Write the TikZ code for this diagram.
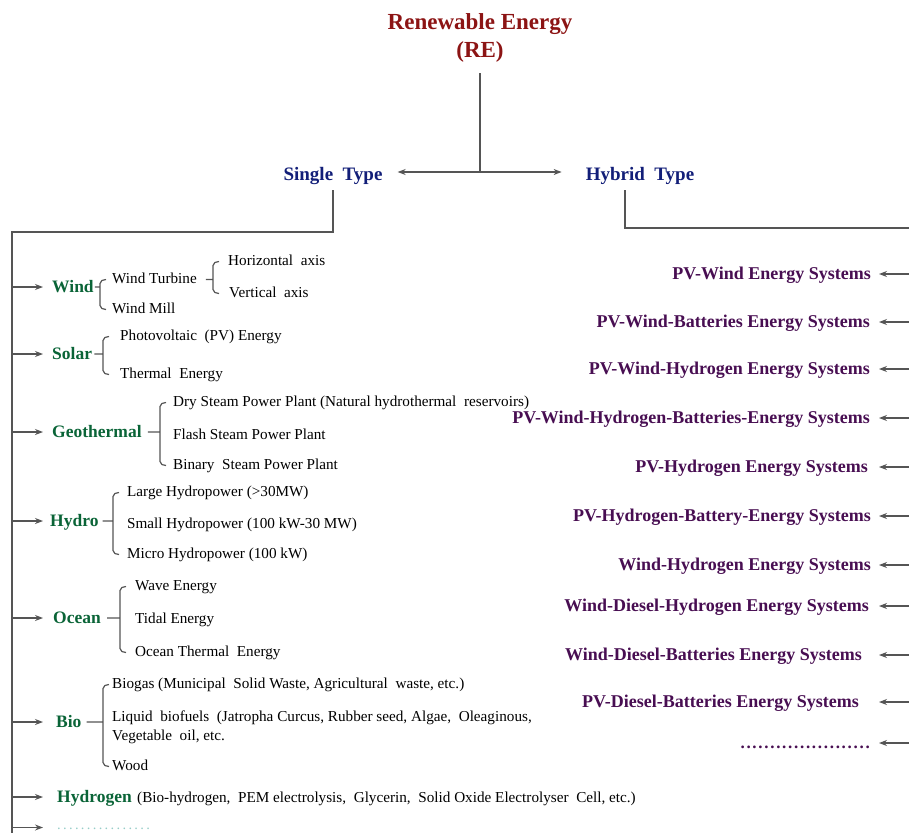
\documentclass[tikz,border=0pt]{standalone}
\usepackage{fontspec}
\setmainfont{Liberation Serif}
\usetikzlibrary{arrows.meta,calc}

\definecolor{retitle}{RGB}{140,20,20}
\definecolor{typeblue}{RGB}{18,30,120}
\definecolor{srcgreen}{RGB}{10,100,55}
\definecolor{hybpurple}{RGB}{72,14,82}
\definecolor{linkgray}{RGB}{85,85,85}
\definecolor{faintteal}{RGB}{150,205,200}

\tikzset{
  link/.style={draw=linkgray, line width=1.2pt},
  arr/.style={link, -{Stealth[length=8pt,width=6pt]}},
  title/.style={font=\fontsize{23}{28}\selectfont\bfseries, text=retitle, align=center, inner sep=0pt},
  kind/.style={font=\fontsize{19}{22}\selectfont\bfseries, text=typeblue, inner sep=0pt, anchor=base},
  src/.style={font=\fontsize{17.5}{20}\selectfont\bfseries, text=srcgreen, inner sep=0pt, anchor=west, text height=13pt, text depth=3pt},
  item/.style={font=\fontsize{15.2}{18}\selectfont, inner sep=0pt, anchor=base west, text height=10pt, text depth=3pt},
  hyb/.style={font=\fontsize{18}{21}\selectfont\bfseries, text=hybpurple, inner sep=0pt, anchor=east, text height=13pt, text depth=3pt},
}

% bracket from a source label to its first..last items
% #1 parent, #2 first item, #3 last item, #4 gap before item text, #5 gap after parent
\newcommand\bracelink[5]{%
  \draw[link] let \p1=(#2.west), \p2=(#3.west), \p3=(#1.east) in
    (\x1-#4pt+6pt,\y1) to[out=180,in=90] (\x1-#4pt,\y1-4pt)
    -- (\x1-#4pt,\y2+4pt) to[out=-90,in=180] (\x1-#4pt+6pt,\y2)
    (\x3+#5pt,\y3) -- (\x1-#4pt,\y3);}

\begin{document}
\begin{tikzpicture}[x=1pt,y=-1pt]
\useasboundingbox (0,0) rectangle (909,832);

% root and the two families
\node[title, anchor=north] (re) at (480,13) {Renewable Energy\\(RE)};
\node[kind] (single) at (333,180) {Single\ \ Type};
\node[kind] (hybrid) at (640,180) {Hybrid\ \ Type};

\coordinate (fork) at (480,172);
\draw[link] ([yshift=-11pt]re.south) -- (fork);
\draw[arr] (fork) -- ($(single.east |- fork)+(15,0)$);
\draw[arr] (fork) -- ($(hybrid.west |- fork)+(-24,0)$);

% spines
\coordinate (spine) at (12,232);
\coordinate (spineend) at (12,845);
\coordinate (ltip) at (43,0);
\draw[link] ([yshift=-6pt]single.south) -- (single.south |- spine) -- (spine) -- (spineend);

\coordinate (hdrop) at (625,190);
\coordinate (rspine) at (913,228);
\coordinate (rspineend) at (913,760);
\coordinate (htip) at (879,0);
\draw[link] (hdrop) -- (hdrop |- rspine) -- (rspine) -- (rspineend);

% single type sources
\node[src] (wind)  at (52,287) {Wind};
\node[src] (solar) at (52,354) {Solar};
\node[src] (geo)   at (52,432) {Geothermal};
\node[src] (hydro) at (50,521) {Hydro};
\node[src] (ocean) at (53,618) {Ocean};
\node[src] (bio)   at (56,722) {Bio};
\node[src] (hyd)   at (57,797) {Hydrogen};
\node[item, text=faintteal, text height=3pt, text depth=0pt,
      font=\fontsize{14.5}{17}\selectfont\addfontfeature{LetterSpace=16}] (more) at (57,829) {................};

\node[item] (wt) at (112,283) {Wind Turbine};
\node[item] (wm) at (112,313) {Wind Mill};
\node[item] (ha) at (228,265) {Horizontal\ \ axis};
\node[item] (va) at (229,297) {Vertical\ \ axis};

\node[item] (pv) at (120,340) {Photovoltaic\ \ (PV) Energy};
\node[item] (th) at (120,378) {Thermal\ \ Energy};

\node[item] (dry)   at (173,406) {Dry Steam Power Plant (Natural hydrothermal\ \ reservoirs)};
\node[item] (flash) at (173,439) {Flash Steam Power Plant};
\node[item] (bin)   at (173,469) {Binary\ \ Steam Power Plant};

\node[item] (large) at (127,496) {Large Hydropower (>30MW)};
\node[item] (small) at (127,528) {Small Hydropower (100 kW-30 MW)};
\node[item] (micro) at (127,558) {Micro Hydropower (100 kW)};

\node[item] (wave)  at (135,590) {Wave Energy};
\node[item] (tidal) at (135,623) {Tidal Energy};
\node[item] (otec)  at (135,656) {Ocean Thermal\ \ Energy};

\node[item] (biogas) at (112,688) {Biogas (Municipal\ \ Solid Waste, Agricultural\ \ waste, etc.)};
\node[item] (liq)    at (112,721) {Liquid\ \ biofuels\ \ (Jatropha Curcus, Rubber seed, Algae,\ \ Oleaginous,};
\node[item] (veg)    at (112,740) {Vegetable\ \ oil, etc.};
\node[item] (wood)   at (112,770) {Wood};

\node[item] (hdet) at (137,802) {(Bio-hydrogen,\ \ PEM electrolysis,\ \ Glycerin,\ \ Solid Oxide Electrolyser\ \ Cell, etc.)};

\bracelink{wind}{wt}{wm}{12}{1}
\bracelink{wt}{ha}{va}{15}{9}
\bracelink{solar}{pv}{th}{17}{2}
\bracelink{geo}{dry}{bin}{13}{6}
\bracelink{hydro}{large}{micro}{14}{4}
\bracelink{ocean}{wave}{otec}{15}{6}
\bracelink{bio}{biogas}{wood}{9}{5}

\foreach \s in {wind,solar,geo,hydro,ocean,bio,hyd,more}
  \draw[arr] (spine |- \s.west) -- (ltip |- \s.west);

% hybrid type systems
\node[hyb] (h1)  at (871,274) {PV-Wind Energy Systems};
\node[hyb] (h2)  at (870,322) {PV-Wind-Batteries Energy Systems};
\node[hyb] (h3)  at (870,369) {PV-Wind-Hydrogen Energy Systems};
\node[hyb] (h4)  at (870,418) {PV-Wind-Hydrogen-Batteries-Energy Systems};
\node[hyb] (h5)  at (868,467) {PV-Hydrogen Energy Systems};
\node[hyb] (h6)  at (871,516) {PV-Hydrogen-Battery-Energy Systems};
\node[hyb] (h7)  at (871,565) {Wind-Hydrogen Energy Systems};
\node[hyb] (h8)  at (869,606) {Wind-Diesel-Hydrogen Energy Systems};
\node[hyb] (h9)  at (862,655) {Wind-Diesel-Batteries Energy Systems};
\node[hyb] (h10) at (859,702) {PV-Diesel-Batteries Energy Systems};
\node[hyb, font=\fontsize{17}{20}\selectfont\bfseries\addfontfeature{LetterSpace=10}] (h11) at (870,743) {......................};

\foreach \h in {h1,h2,h3,h4,h5,h6,h7,h8,h9,h10,h11}
  \draw[arr] (rspine |- \h.east) -- (htip |- \h.east);
\end{tikzpicture}
\end{document}
